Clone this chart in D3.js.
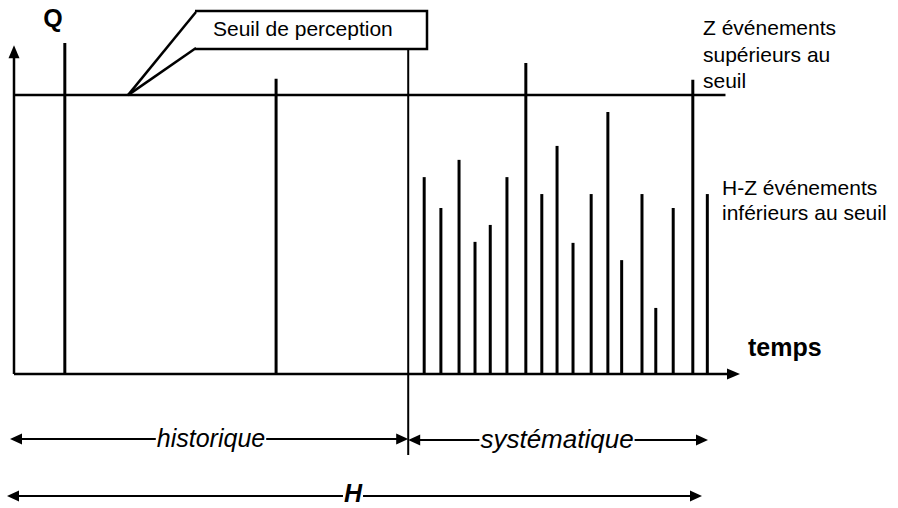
<!DOCTYPE html>
<html>
<head>
<meta charset="utf-8">
<script src="https://cdn.jsdelivr.net/npm/d3@7"></script>
<style>
  body { margin: 0; background: #fff; }
  svg { display: block; }
  text { font-family: "Liberation Sans", Arial, sans-serif; fill: #000; }
</style>
</head>
<body>
<svg id="chart"></svg>
<script>
// time positions (0-100) and discharge values (0-100)
var histTimes = [7.0, 36.1],
    histValues = [99.7, 88.9];

var sysTimes = [56.5, 58.8, 61.3, 63.5, 65.6, 67.9, 70.5, 72.7, 74.8, 77.0, 79.5, 81.8, 83.7, 86.5, 88.4, 90.8, 93.5, 95.5],
    sysValues = [59.3, 50.0, 64.5, 39.8, 44.9, 59.3, 93.7, 54.2, 68.7, 39.5, 54.2, 78.9, 34.3, 54.2, 19.9, 50.0, 88.6, 54.2];

var threshold = 84.0,
    splitTime = 54.3,
    thresholdEnd = 98.0;

var labelsZ = ["Z événements", "supérieurs au", "seuil"],
    labelsHZ = ["H-Z événements", "inférieurs au seuil"];

var svgWidth = 898,
    svgHeight = 508;

var svg = d3.select('#chart')
    .attr("width", svgWidth)
    .attr("height", svgHeight);

var x = d3.scaleLinear().domain([0, 100]).range([14, 740]);
var y = d3.scaleLinear().domain([0, 100]).range([374, 42]);

function arrowHead(px, py, dir, len, half) {
    // dir: "left", "right", "up"
    var pts;
    if (dir == "right") pts = [[px, py], [px - len, py - half], [px - len, py + half]];
    else if (dir == "left") pts = [[px, py], [px + len, py - half], [px + len, py + half]];
    else pts = [[px, py], [px - half, py + len], [px + half, py + len]];
    svg.append("path")
        .attr("d", "M" + pts.join("L") + "Z")
        .attr("fill", "#000");
}

function line(x1, y1, x2, y2, w) {
    svg.append("line")
        .attr("x1", x1).attr("y1", y1)
        .attr("x2", x2).attr("y2", y2)
        .attr("stroke", "#000")
        .attr("stroke-width", w);
}

// axes
line(x(0), y(0), x(0), y(99) + 10, 2.5);
arrowHead(x(0), y(99), "up", 13, 5.5);
line(x(0), y(0), x(100) - 10, y(0), 2.5);
arrowHead(x(100), y(0), "right", 13, 5.5);

// perception threshold
line(x(0), y(threshold), x(thresholdEnd), y(threshold), 2.5);

// historical and systematic events
svg.selectAll("line.hist")
    .data(histTimes)
    .enter()
    .append("line")
    .attr("class", "hist")
    .attr("x1", function (d) { return x(d) })
    .attr("x2", function (d) { return x(d) })
    .attr("y1", y(0))
    .attr("y2", function (d, i) { return y(histValues[i]) })
    .attr("stroke", "#000")
    .attr("stroke-width", 3);

svg.selectAll("line.sys")
    .data(sysTimes)
    .enter()
    .append("line")
    .attr("class", "sys")
    .attr("x1", function (d) { return x(d) })
    .attr("x2", function (d) { return x(d) })
    .attr("y1", y(0))
    .attr("y2", function (d, i) { return y(sysValues[i]) })
    .attr("stroke", "#000")
    .attr("stroke-width", 3);

// split between historical and systematic periods
line(x(splitTime), 49, x(splitTime), 455, 2);

// callout box
svg.append("path")
    .attr("d", "M195,11 L427,11 L427,49 L195,49")
    .attr("fill", "none")
    .attr("stroke", "#000")
    .attr("stroke-width", 2.5);
line(196, 12, 128, y(threshold), 2.5);
line(196, 48, 128, y(threshold), 2.5);

svg.append("text")
    .attr("x", 213).attr("y", 36)
    .style("font-size", "21px")
    .text("Seuil de perception");

svg.append("text")
    .attr("x", 53).attr("y", 27)
    .attr("text-anchor", "middle")
    .style("font-size", "25px")
    .style("font-weight", "bold")
    .text("Q");

svg.append("text")
    .attr("x", 748).attr("y", 356)
    .style("font-size", "25px")
    .style("font-weight", "bold")
    .text("temps");

svg.selectAll("text.z")
    .data(labelsZ)
    .enter()
    .append("text")
    .attr("class", "z")
    .attr("x", 703)
    .attr("y", function (d, i) { return 35 + i * 26.5 })
    .style("font-size", "21px")
    .text(function (d) { return d });

svg.selectAll("text.hz")
    .data(labelsHZ)
    .enter()
    .append("text")
    .attr("class", "hz")
    .attr("x", 722)
    .attr("y", function (d, i) { return 195 + i * 25 })
    .style("font-size", "21px")
    .text(function (d) { return d });

// span arrows with labels sitting on the line
function spanArrow(x1, x2, yy, label, cx, style) {
    var t = svg.append("text")
        .attr("x", cx).attr("y", yy + style.dy)
        .attr("text-anchor", "middle")
        .style("font-size", style.size)
        .style("font-style", "italic")
        .style("font-weight", style.weight)
        .text(label);
    var w = t.node().getComputedTextLength();
    line(x1 + 8, yy, cx - w / 2 - 1, yy, 2);
    line(cx + w / 2 + 1, yy, x2 - 8, yy, 2);
    arrowHead(x1, yy, "left", 12, 5.5);
    arrowHead(x2, yy, "right", 12, 5.5);
}

spanArrow(10, x(splitTime), 439, "historique", 211, { size: "25px", weight: "normal", dy: 8 });
spanArrow(x(splitTime), 708, 440, "systématique", 557, { size: "26px", weight: "normal", dy: 8 });
spanArrow(7, 702, 496, "H", 353, { size: "25px", weight: "bold", dy: 6 });
</script>
</body>
</html>
